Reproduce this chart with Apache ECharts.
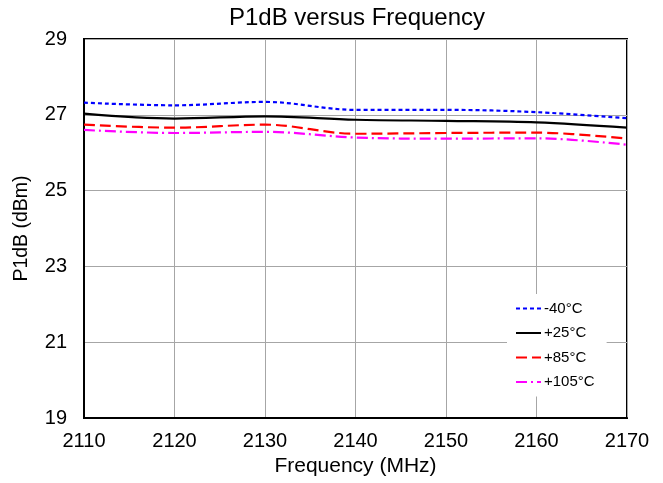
<!DOCTYPE html>
<html><head><meta charset="utf-8">
<script src="https://cdn.jsdelivr.net/npm/echarts@6/dist/echarts.min.js"></script>
<style>html,body{margin:0;padding:0;background:#fff}#c{width:663px;height:483px}</style>
</head><body><div id="c"></div>
<script>
const freqs = [2110, 2120, 2130, 2140, 2150, 2160, 2170];
const m40 = [27.32, 27.25, 27.34, 27.13, 27.13, 27.07, 26.91];
const p25 = [27.03, 26.90, 26.96, 26.87, 26.84, 26.80, 26.66];
const p85 = [26.74, 26.66, 26.74, 26.50, 26.52, 26.53, 26.37];
const p105 = [26.60, 26.52, 26.55, 26.40, 26.37, 26.38, 26.21];
const names = ['-40°C', '+25°C', '+85°C', '+105°C'];
const xTicks = [2110, 2170, 10];
const yTicks = [19, 29, 2];

const font = 'Liberation Sans, Arial, sans-serif';
function pairs(v){ return freqs.map((f,i)=>[f,v[i]]); }
const styles = [
  {color:'#0000ff', type:[4,3], width:2.2},
  {color:'#000000', type:'solid', width:2.2},
  {color:'#ff0000', type:[11,5], width:2.2},
  {color:'#ff00ff', type:[11,4,2,4], width:2.2}
];
const data = [m40, p25, p85, p105];
const chart = echarts.init(document.getElementById('c'));
chart.setOption({
  animation:false,
  backgroundColor:'#fff',
  title:{text:'P1dB versus Frequency', left:357, top:6, textAlign:'center', padding:0,
    textStyle:{fontFamily:font, fontSize:24, fontWeight:'normal', color:'#000'}},
  grid:{left:84, right:36, top:39, bottom:65, show:true, borderColor:'#000', borderWidth:2, backgroundColor:'transparent'},
  legend:{orient:'vertical', left:507, top:294, itemWidth:25, itemHeight:14, itemGap:9.5,
    backgroundColor:'#fff', padding:[7,12,7,8],
    itemStyle:{opacity:0},
    textStyle:{fontFamily:font, fontSize:15, color:'#000', padding:[0,0,0,-2]},
    data: names},
  xAxis:{type:'value', min:xTicks[0], max:xTicks[1], interval:xTicks[2],
    name:'Frequency (MHz)', nameLocation:'middle', nameGap:37,
    nameTextStyle:{fontFamily:font, fontSize:21, color:'#000'},
    axisLine:{show:true, lineStyle:{color:'#000', width:2}}, axisTick:{show:false},
    axisLabel:{fontFamily:font, fontSize:20, color:'#000', margin:13, formatter:v=>String(v)},
    splitLine:{show:true, lineStyle:{color:'#a6a6a6', width:1}}},
  yAxis:{type:'value', min:yTicks[0], max:yTicks[1], interval:yTicks[2],
    name:'P1dB (dBm)', nameLocation:'middle', nameGap:52,
    nameTextStyle:{fontFamily:font, fontSize:19.5, color:'#000'},
    axisLine:{show:true, lineStyle:{color:'#000', width:2}}, axisTick:{show:false},
    axisLabel:{fontFamily:font, fontSize:20, color:'#000', margin:17},
    splitLine:{show:true, lineStyle:{color:'#a6a6a6', width:1}}},
  series: names.map((n,i)=>({name:n, type:'line', data:pairs(data[i]), smooth:0.35,
    showSymbol:false, symbol:'none', lineStyle:styles[i], itemStyle:{color:styles[i].color}, z:3+i}))
});
</script></body></html>
